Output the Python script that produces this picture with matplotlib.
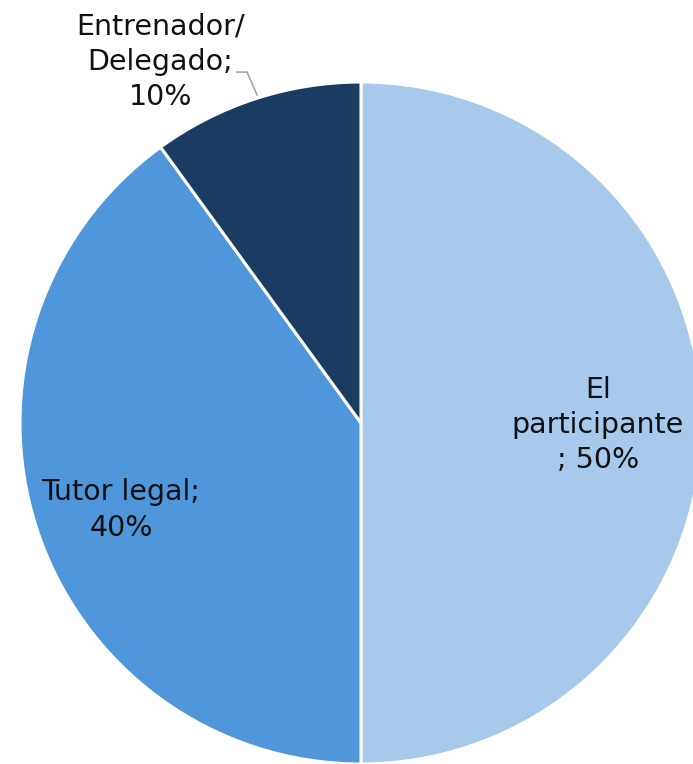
import matplotlib.pyplot as plt

# Data
labels = ['El\nparticipante\n; 50%', 'Tutor legal;\n40%', 'Entrenador/\nDelegado;\n10%']
values = [50, 40, 10]
colors = ['#A7C9EB', '#5096DA', '#1A3C62']

# label placement (data coords, pie radius = 1)
label_pos = [(0.695, -0.006), (-0.704, -0.255), (-0.589, 1.058)]

fig = plt.figure(figsize=(6.93, 7.64), dpi=100)
ax = fig.add_axes([0, 0, 1, 1])

wedges, _ = ax.pie(values, colors=colors, startangle=90, counterclock=False,
                   wedgeprops=dict(edgecolor='white', linewidth=2.2))

for txt, (x, y) in zip(labels, label_pos):
    ax.text(x, y, txt, ha='center', va='center', fontsize=20.5,
            family='DejaVu Sans', color='#111111', linespacing=1.33)

# leader line for the small slice
ax.plot([-0.364, -0.334, -0.305], [1.029, 1.029, 0.962], color='#A6A6A6', lw=1.2)

ax.set_xlim(-361 / 341, (693 - 361) / 341)
ax.set_ylim((423 - 764) / 341, 423 / 341)
ax.set_aspect('auto')
ax.axis('off')

fig.savefig('out.png', dpi=100)
